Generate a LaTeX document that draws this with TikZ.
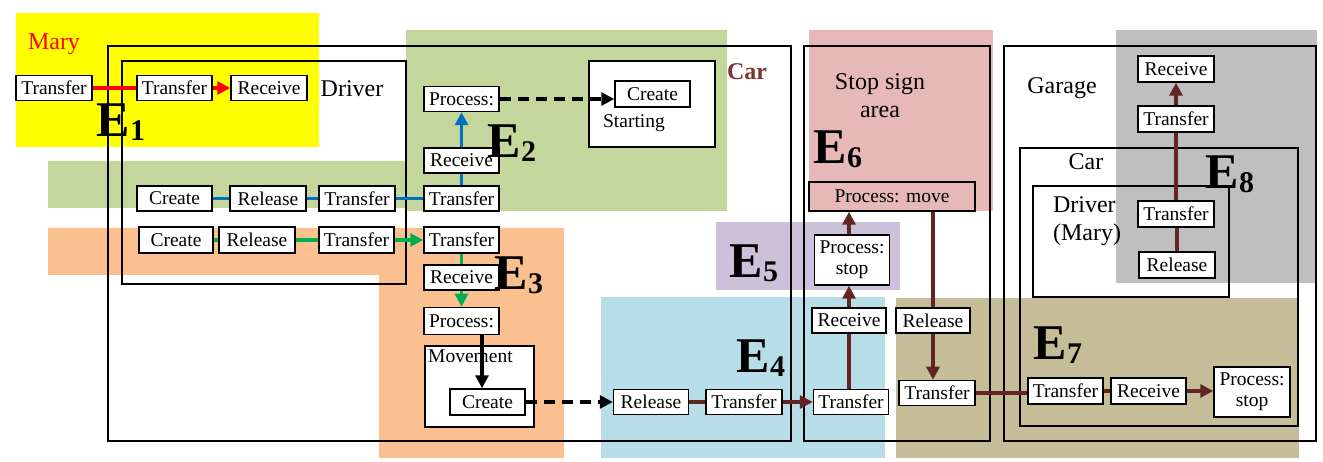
\documentclass[tikz,border=0pt]{standalone}
\usepackage{fontspec}
\setmainfont{Liberation Serif}
\usetikzlibrary{arrows.meta,calc}
\definecolor{yel}{RGB}{255,255,0}
\definecolor{grn}{RGB}{195,214,155}
\definecolor{org}{RGB}{250,192,144}
\definecolor{blu}{RGB}{183,222,232}
\definecolor{pur}{RGB}{204,193,218}
\definecolor{pnk}{RGB}{230,185,184}
\definecolor{olv}{RGB}{196,189,151}
\definecolor{gry}{RGB}{191,191,191}
\definecolor{brn}{RGB}{99,37,35}
\definecolor{carred}{RGB}{122,52,52}
\definecolor{lblue}{RGB}{0,112,192}
\definecolor{lgreen}{RGB}{0,176,80}
\newcommand{\ELab}[1]{{\fontsize{50}{50}\selectfont E}\raisebox{-4pt}{\fontsize{30}{30}\selectfont #1}}
\begin{document}
\begin{tikzpicture}[x=1pt,y=-1pt,
  bx/.style={draw, line width=1.5pt, fill=white, inner sep=0pt, minimum height=25pt, minimum width=75pt, font=\fontsize{19.5}{21}\selectfont},
  bx2/.style={bx, minimum height=50pt, align=center},
  frame/.style={draw, line width=1.6pt},
  lbl/.style={inner sep=0pt, font=\fontsize{24}{28}\selectfont},
  ee/.style={inner sep=0pt, font=\bfseries},
  conn/.style={line width=3.2pt},
  tip/.style={-{Triangle[length=13pt,width=13pt]}},
  dsh/.style={line width=3.2pt, dash pattern=on 11pt off 7pt}]
\fill[white] (0,0) rectangle (1323,462);
\useasboundingbox (0,0) rectangle (1323,462);
% coloured regions
\fill[yel] (16,13) rectangle (319,147);
\fill[grn] (48,161) -- (406,161) -- (406,30) -- (727,30) -- (727,211) -- (406,211) -- (406,208) -- (48,208) -- cycle;
\fill[org] (48,228) -- (564,228) -- (564,458) -- (379,458) -- (379,275) -- (48,275) -- cycle;
\fill[blu] (601,297) rectangle (885,458);
\fill[pur] (716,222) rectangle (900,290);
\fill[pnk] (809,30) rectangle (993,211);
\fill[olv] (896,298) rectangle (1299,458);
\fill[gry] (1116,30) rectangle (1317,283);
% frames
\draw[frame] (108,46) rectangle (791,441);
\draw[frame] (122,61) rectangle (406,284);
\draw[frame] (804,46) rectangle (990,441);
\draw[frame] (1004,46) rectangle (1316,441);
\draw[frame] (1020,148) rectangle (1298,426);
\draw[frame] (1033,186) rectangle (1229,297);
\draw[frame, fill=white] (589,61) rectangle (715,147);
\draw[frame, fill=white] (425,346) rectangle (534,427);
% labels
\node[lbl, text=red] (mary) at (54,44) {Mary};
\node[lbl] (drv) at (352,89) {Driver};
\node[lbl, font=\fontsize{24}{28}\selectfont\bfseries, text=carred] (car1) at (747,72) {Car};
\node[lbl, align=center] (stop) at (880,96) {Stop sign\\area};
\node[lbl] (gar) at (1062,88) {Garage};
\node[lbl] (car2) at (1086,162) {Car};
\node[lbl, align=left] (drv2) at (1087,221) {Driver\\(Mary)};
\node[inner sep=0pt, anchor=west, font=\fontsize{19.5}{21}\selectfont] (mov) at (428,356) {Movement};
\node[inner sep=0pt, font=\fontsize{19.5}{21}\selectfont] (start) at (634,123) {Starting};
% E1
\node[bx, minimum width=76pt] (m1) at (54,88) {Transfer};
\node[bx] (d1) at (174.5,88) {Transfer};
\node[bx, minimum width=76pt] (d2) at (269,88) {Receive};
% E2
\node[bx] (c1) at (174.5,198.5) {Create};
\node[bx, minimum width=76pt] (r1) at (268,198.5) {Release};
\node[bx, minimum width=76pt] (t1) at (357,198.5) {Transfer};
\node[bx] (t2) at (461.5,198.5) {Transfer};
\node[bx] (rc2) at (461.5,160.5) {Receive};
\node[bx] (p2) at (461.5,99) {Process:};
\node[bx, minimum height=26pt] (cr2) at (652.5,94) {Create};
% E3
\node[bx, minimum width=74pt, minimum height=26pt] (c3) at (176,240) {Create};
\node[bx, minimum width=76pt, minimum height=26pt] (r3) at (257,240) {Release};
\node[bx, minimum height=26pt] (t3) at (356.5,240) {Transfer};
\node[bx, minimum height=26pt] (t4) at (461.5,240) {Transfer};
\node[bx] (rc4) at (461.5,277.5) {Receive};
\node[bx, minimum height=27pt] (p4) at (461.5,321) {Process:};
\node[bx, minimum height=26pt] (cr4) at (487.5,402) {Create};
% E4
\node[bx] (rl5) at (651,402) {Release};
\node[bx, minimum width=76pt] (tr5) at (744,402) {Transfer};
\node[bx] (tr6) at (851,402) {Transfer};
% stop sign area
\node[bx, minimum width=74pt] (rc6) at (849,320.5) {Receive};
\node[bx2] (ps6) at (852,260) {Process:\\stop};
\node[bx, minimum width=166pt, minimum height=29pt, fill=pnk] (pm) at (892,196.5) {Process: move};
\node[bx, minimum width=74pt] (rl7) at (933,320.5) {Release};
\node[bx, minimum width=76pt] (tr7) at (937,393) {Transfer};
% garage
\node[bx, minimum width=76pt, minimum height=26pt] (g1) at (1176,69) {Receive};
\node[bx, minimum width=76pt, minimum height=26pt] (g2) at (1176,119) {Transfer};
\node[bx, minimum width=76pt, minimum height=26pt] (g3) at (1176,214) {Transfer};
\node[bx, minimum width=76pt, minimum height=26pt] (g4) at (1177,265) {Release};
\node[bx, minimum height=26pt] (g5) at (1065.5,391) {Transfer};
\node[bx, minimum height=26pt] (g6) at (1148.5,391) {Receive};
\node[bx2, minimum width=76pt] (g7) at (1252,392) {Process:\\stop};
% E labels
\node[ee] (e1) at (121,122) {\ELab{1}};
\node[ee] (e2) at (512,143) {\ELab{2}};
\node[ee] (e3) at (519,275) {\ELab{3}};
\node[ee] (e4) at (761,358) {\ELab{4}};
\node[ee] (e5) at (754,263) {\ELab{5}};
\node[ee] (e6) at (838,149) {\ELab{6}};
\node[ee] (e7) at (1058,345) {\ELab{7}};
\node[ee] (e8) at (1230,174) {\ELab{8}};
% connectors E1
\draw[conn, red] (m1) -- (d1);
\draw[conn, red, tip] (d1) -- (d2);
% E2
\draw[conn, lblue] (c1) -- (r1);
\draw[conn, lblue] (r1) -- (t1);
\draw[conn, lblue] (t1) -- (t2);
\draw[conn, lblue] (t2) -- (rc2);
\draw[conn, lblue, tip] (rc2) -- (p2);
\draw[dsh, tip] (p2) -- (p2 -| cr2.west);
% E3
\draw[conn, lgreen] (c3) -- (r3);
\draw[conn, lgreen] (r3) -- (t3);
\draw[conn, lgreen, tip] (t3) -- (t4);
\draw[conn, lgreen] (t4) -- (rc4);
\draw[conn, lgreen, tip] (rc4) -- (p4);
\draw[conn, tip] ([xshift=20.5pt]p4.south) -- ([xshift=20.5pt]p4.south |- cr4.north);
\draw[dsh, tip] (cr4) -- (rl5);
% E4 and further
\draw[conn, brn] (rl5) -- (tr5);
\draw[conn, brn, tip] (tr5) -- (tr6);
\draw[conn, brn] (tr6.north -| rc6) -- (rc6);
\draw[conn, brn, tip] (rc6) -- (rc6 |- ps6.south);
\draw[conn, brn, tip] (ps6.north -| rc6) -- (rc6 |- pm.south);
\draw[conn, brn] (pm.south -| rl7) -- (rl7);
\draw[conn, brn, tip] (rl7) -- (rl7 |- tr7.north);
\draw[conn, brn] (tr7) -- (tr7 -| g5.west);
\draw[conn, brn] (g5) -- (g6);
\draw[conn, brn, tip] (g6) -- (g6 -| g7.west);
\draw[conn, brn] (g4) -- (g4 |- g3.south);
\draw[conn, brn] (g3) -- (g2);
\draw[conn, brn, tip] (g2) -- (g1);
\end{tikzpicture}
\end{document}
